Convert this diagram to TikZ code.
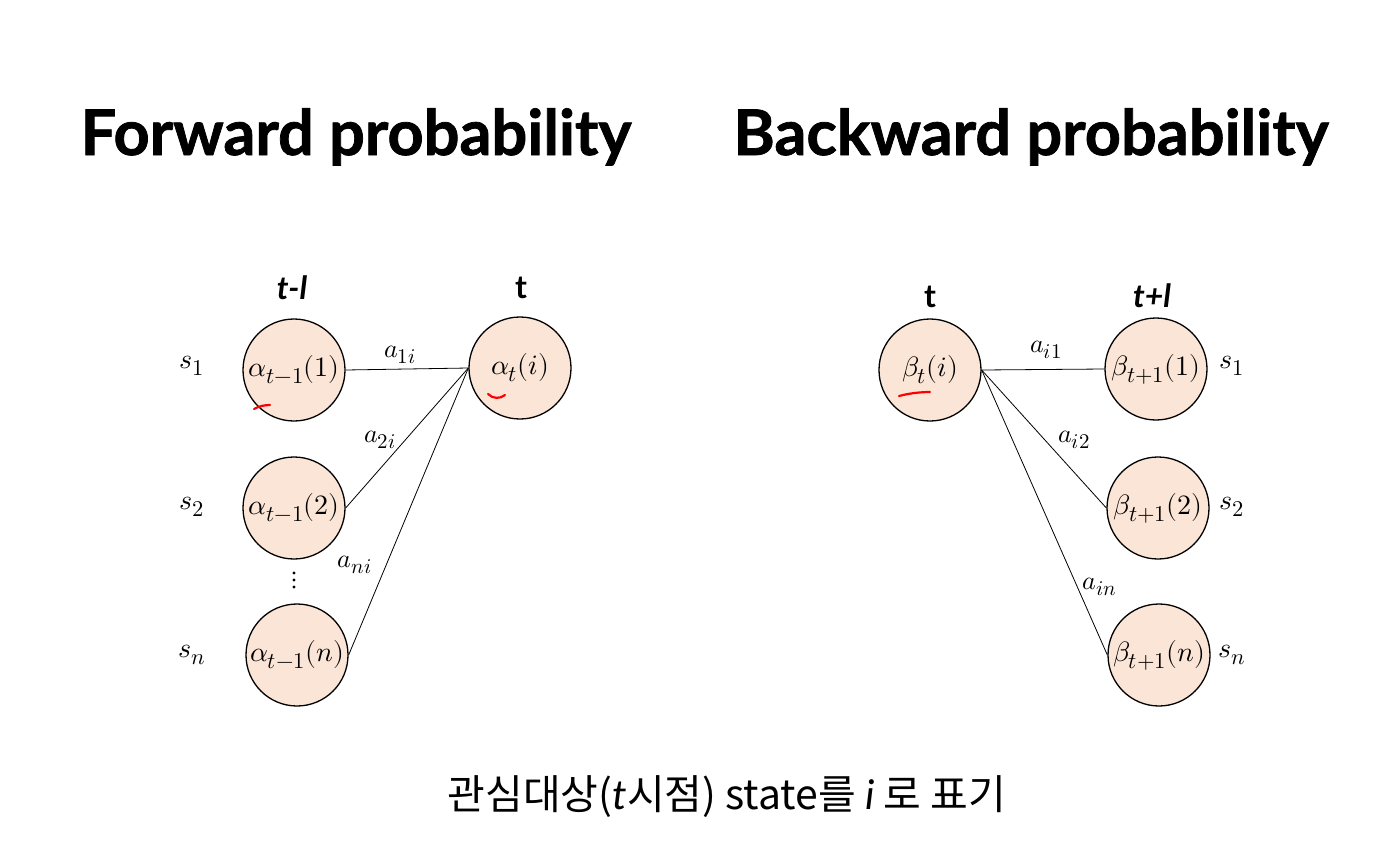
\documentclass[tikz,border=0pt]{standalone}
\usepackage{fontspec}
\usepackage{unicode-math}
\setmainfont{Lato}
\setmathfont{Latin Modern Math}
\newfontfamily\titlefont[FakeBold=1.2]{Lato}
\newfontfamily\krfont{Noto Sans CJK KR}
\newfontfamily\latinit{Lato Italic}
% slightly enlarged subscripts
\newcommand\bsub[1]{\scalebox{1.15}{$\scriptstyle #1$}}
\begin{document}
\begin{tikzpicture}[x=1pt,y=-1pt,
  state/.style={circle,draw=black,line width=1.3pt,fill=peach,minimum size=102pt,inner sep=0pt,font=\fontsize{28}{32}\selectfont},
  trans/.style={draw=black,line width=0.8pt},
  lab/.style={font=\fontsize{26}{30}\selectfont,inner sep=0pt},
  slab/.style={font=\fontsize{28}{32}\selectfont,inner sep=0pt},
  head/.style={font=\fontsize{32}{36}\selectfont\bfseries,inner sep=0pt},
  title/.style={font=\fontsize{63}{70}\selectfont\titlefont\bfseries,inner sep=0pt,anchor=base},
  penmark/.style={draw=red,line width=2.2pt,line cap=round}]
\definecolor{peach}{HTML}{FBE5D6}
\useasboundingbox (0,0) rectangle (1387,865);
\fill[white] (0,0) rectangle (1387,865);

% titles
\node[title] (ftitle) at (356,155) {Forward probability};
\node[title] (btitle) at (1031,155) {Backward probability};

% forward part
\node[head] (hprev) at (292,288) {\itshape t-l};
\node[head] (hcur) at (521,288) {t};
\node[state] (f1) at (294,370) {$\alpha_{\bsub{t-1}}(1)$};
\node[state] (f2) at (294,508) {$\alpha_{\bsub{t-1}}(2)$};
\node[state] (fn) at (297,655) {$\alpha_{\bsub{t-1}}(n)$};
\node[state] (ft) at (520,368) {$\alpha_{\bsub{t}}(i)$};
\node[slab] (fs1) at (192,366) {$s_{\bsub{1}}$};
\node[slab] (fs2) at (192,507) {$s_{\bsub{2}}$};
\node[slab] (fsn) at (192,655) {$s_{\bsub{n}}$};
\fill (294,573) circle (1.6) (294,580) circle (1.6) (294,587) circle (1.6);
\draw[trans] (f1.east) -- (ft.west);
\draw[trans] (f2.east) -- (ft.west);
\draw[trans] (fn.east) -- (ft.west);
\node[lab] (fa1) at (400,355) {$a_{\bsub{1i}}$};
\node[lab] (fa2) at (380,440) {$a_{\bsub{2i}}$};
\node[lab] (fan) at (355,565) {$a_{\bsub{ni}}$};

% backward part
\node[head] (bcur) at (930,297) {t};
\node[head] (bnext) at (1152,296) {\itshape t+l};
\node[state] (bt) at (930,370) {$\beta_{\bsub{t}}(i)$};
\node[state] (b1) at (1156,369) {$\beta_{\bsub{t+1}}(1)$};
\node[state] (b2) at (1158,508) {$\beta_{\bsub{t+1}}(2)$};
\node[state] (bn) at (1159,655) {$\beta_{\bsub{t+1}}(n)$};
\node[slab] (bs1) at (1232,366) {$s_{\bsub{1}}$};
\node[slab] (bs2) at (1232,507) {$s_{\bsub{2}}$};
\node[slab] (bsn) at (1232,655) {$s_{\bsub{n}}$};
\draw[trans] (bt.east) -- (b1.west);
\draw[trans] (bt.east) -- (b2.west);
\draw[trans] (bt.east) -- (bn.west);
\node[lab] (ba1) at (1046,350) {$a_{\bsub{i1}}$};
\node[lab] (ba2) at (1074,440) {$a_{\bsub{i2}}$};
\node[lab] (ban) at (1100,587) {$a_{\bsub{in}}$};

% red pen marks
\draw[penmark] (254,409) .. controls (259,406) and (265,405) .. (270,405);
\draw[penmark] (488,394) .. controls (493,399) and (500,399) .. (505,395);
\draw[penmark] (899,396) .. controls (910,393) and (922,392) .. (930,392);

% caption
\node[inner sep=0pt,font=\fontsize{41}{48}\selectfont] (cap) at (727,797)
  {\krfont 관심대상(\latinit t\krfont 시점) state를 \latinit i\krfont{} 로 표기};
\end{tikzpicture}
\end{document}
